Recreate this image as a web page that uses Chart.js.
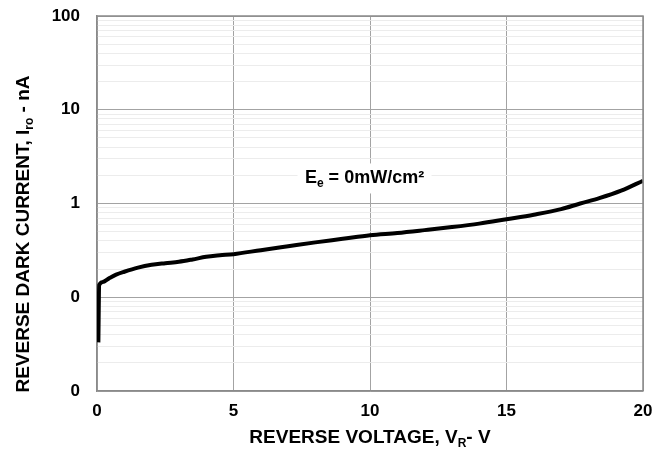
<!DOCTYPE html>
<html>
<head>
<meta charset="utf-8">
<script src="https://cdn.jsdelivr.net/npm/chart.js@4.4.1/dist/chart.umd.min.js"></script>
<style>
  html, body { margin: 0; padding: 0; background: #fff; }
  #wrap { width: 670px; height: 454px; position: relative; }
</style>
</head>
<body>
<div id="wrap"><canvas id="c" width="670" height="454"></canvas></div>
<script>
// ---- data ----
const voltage = [0.05, 0.08, 0.2, 0.44, 0.7, 1, 1.5, 2, 2.5, 3, 3.5, 4, 4.5, 5, 6, 7, 8, 9, 10, 11, 12, 13, 14, 15, 16, 17, 17.7, 18.4, 19.2, 20];
const darkCurrent = [0.033, 0.135, 0.145, 0.159, 0.174, 0.187, 0.207, 0.222, 0.231, 0.239, 0.253, 0.27, 0.28, 0.288, 0.318, 0.35, 0.385, 0.42, 0.459, 0.485, 0.52, 0.56, 0.61, 0.68, 0.76, 0.87, 1.0, 1.14, 1.37, 1.75];
const xTickValues = [0, 5, 10, 15, 20];
const xTickLabels = ['0', '5', '10', '15', '20'];
const yTickValues = [0.01, 0.1, 1, 10, 100];
const yTickLabels = ['0', '0', '1', '10', '100'];
const annotationText = ['E', 'e', ' = 0mW/cm²'];
const xTitle = ['REVERSE VOLTAGE, V', 'R', '- V'];
const yTitle = ['REVERSE DARK CURRENT, I', 'ro', ' - nA'];

// minor grid positions for log axis (1..9 per decade)
const yGridValues = [];
for (let d = 0; d < yTickValues.length; d++) {
  yGridValues.push(yTickValues[d]);
  if (d < yTickValues.length - 1) {
    for (let m = 2; m <= 9; m++) yGridValues.push(+(yTickValues[d] * m).toPrecision(6));
  }
}
function isDecade(v) {
  return yTickValues.some(t => Math.abs(t - v) / t < 1e-6);
}

const FONT = '"Liberation Sans", Arial, sans-serif';
const MAJOR = '#a3a3a3';
const MINOR = '#ececec';

function drawRich(ctx, parts, cx, cy, size) {
  const main = 'bold ' + size + 'px ' + FONT;
  const sub = 'bold ' + Math.round(size * 0.65) + 'px ' + FONT;
  const segs = [
    { t: parts[0], f: main, dy: 0 },
    { t: parts[1], f: sub, dy: size * 0.3 },
    { t: parts[2], f: main, dy: 0 }
  ];
  let total = 0;
  segs.forEach(s => { ctx.font = s.f; s.w = ctx.measureText(s.t).width; total += s.w; });
  let x = cx - total / 2;
  ctx.textBaseline = 'middle';
  ctx.textAlign = 'left';
  segs.forEach(s => { ctx.font = s.f; ctx.fillText(s.t, x, cy + s.dy); x += s.w; });
  return total;
}

const textPlugin = {
  id: 'textPlugin',
  afterDraw(chart) {
    const ctx = chart.ctx;
    const xs = chart.scales.x, ys = chart.scales.y;
    ctx.save();
    ctx.fillStyle = '#000';
    // x title
    drawRich(ctx, xTitle, 370, 438, 19);
    // y title
    ctx.save();
    ctx.translate(24, 234);
    ctx.rotate(-Math.PI / 2);
    drawRich(ctx, yTitle, 0, 0, 19);
    ctx.restore();
    // annotation with white box
    const ax = xs.getPixelForValue(9.8);
    const ay = ys.getPixelForValue(1.85);
    ctx.fillStyle = '#fff';
    ctx.fillRect(ax - 67, ay - 15, 134, 30);
    ctx.fillStyle = '#000';
    drawRich(ctx, annotationText, ax, ay, 18);
    ctx.restore();
  }
};

new Chart(document.getElementById('c'), {
  type: 'line',
  data: {
    datasets: [{
      data: voltage.map((v, i) => ({ x: v, y: darkCurrent[i] })),
      borderColor: '#000',
      borderWidth: 4,
      pointRadius: 0,
      fill: false,
      cubicInterpolationMode: 'monotone',
      borderCapStyle: 'butt',
      borderJoinStyle: 'round'
    }]
  },
  options: {
    responsive: false,
    animation: false,
    layout: { padding: { left: 0, right: 27, top: 16, bottom: 0 } },
    plugins: { legend: { display: false }, tooltip: { enabled: false } },
    scales: {
      x: {
        type: 'linear',
        min: 0, max: 20,
        afterFit(s) { s.height = 63; s.paddingLeft = 0; s.paddingRight = 0; },
        afterBuildTicks(s) { s.ticks = xTickValues.map(v => ({ value: v })); },
        border: { display: true, color: '#8a8a8a', width: 1.5 },
        grid: { color: MAJOR, lineWidth: 1, drawTicks: false },
        ticks: {
          padding: 10,
          color: '#000',
          font: { family: FONT, size: 17, weight: 'bold' },
          maxRotation: 0,
          autoSkip: false,
          callback(v) { const i = xTickValues.indexOf(v); return i >= 0 ? xTickLabels[i] : ''; }
        }
      },
      y: {
        type: 'logarithmic',
        min: 0.01, max: 100,
        afterFit(s) { s.width = 97; s.paddingTop = 0; s.paddingBottom = 0; },
        afterBuildTicks(s) { s.ticks = yGridValues.map(v => ({ value: v })); },
        border: { display: true, color: '#8a8a8a', width: 1.5 },
        grid: {
          drawTicks: false,
          color(c) { return c.tick && isDecade(c.tick.value) ? MAJOR : MINOR; },
          lineWidth: 1
        },
        ticks: {
          padding: 17,
          color: '#000',
          font: { family: FONT, size: 17, weight: 'bold' },
          autoSkip: false,
          callback(v) {
            const i = yTickValues.findIndex(t => Math.abs(t - v) / t < 1e-6);
            return i >= 0 ? yTickLabels[i] : '';
          }
        }
      }
    }
  },
  plugins: [textPlugin, {
    id: 'frame',
    afterDatasetsDraw(chart) {
      const { ctx, chartArea: a } = chart;
      ctx.save();
      ctx.strokeStyle = '#8a8a8a';
      ctx.lineWidth = 1.5;
      ctx.beginPath();
      ctx.moveTo(a.left, a.top); ctx.lineTo(a.right, a.top); ctx.lineTo(a.right, a.bottom);
      ctx.stroke();
      ctx.restore();
    }
  }]
});
</script>
</body>
</html>
